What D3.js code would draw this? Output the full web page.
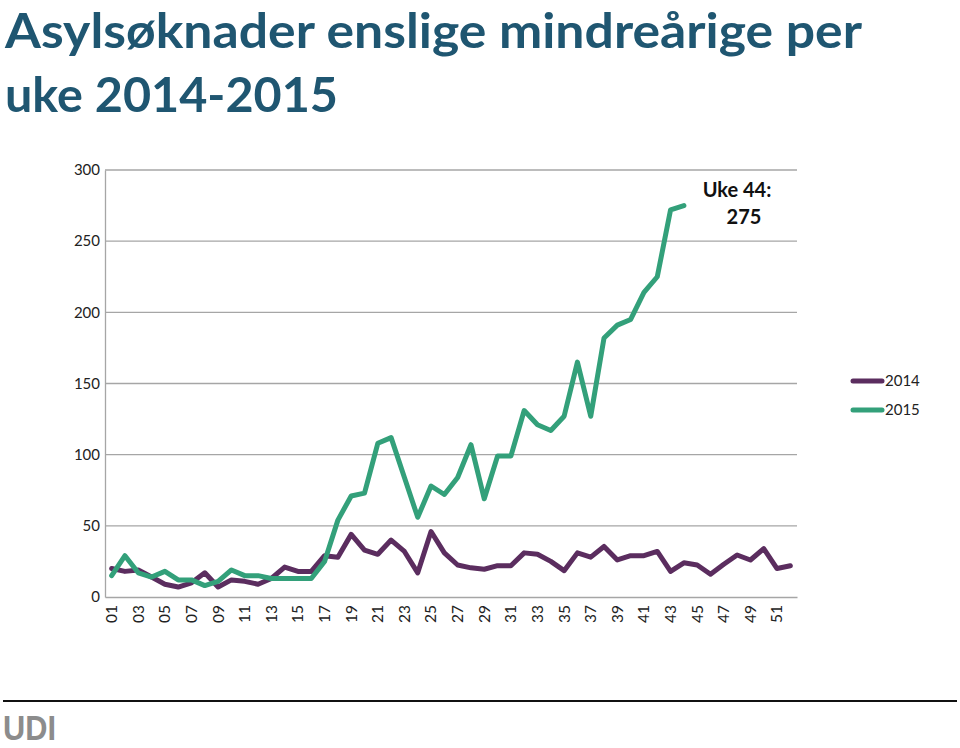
<!DOCTYPE html>
<html><head><meta charset="utf-8">
<script src="https://cdn.jsdelivr.net/npm/d3@7/dist/d3.min.js"></script>
<style>body{margin:0;background:#fff}svg{display:block}</style>
</head><body>
<svg id="c" width="960" height="748"></svg>
<script>
const weeks = d3.range(1, 53).map(w => String(w).padStart(2, "0"));
const tickLabels = weeks.filter((w, i) => i % 2 === 0);
const yTicks = [0, 50, 100, 150, 200, 250, 300];
const values2014 = [20,18,19,14,9,7,10,17,7,12,11,9,13,21,18,18,29,28,44,33,30,40,32,17,46,31,22.5,20.5,19.5,22,22,31,30,25,18.5,31,28,35.5,26,29,29,32,18,24,22.5,16,23,29.5,26,34,20,22];
const values2015 = [15,29,17,14,18,12,12,8,11,19,15,15,13,13,13,13,25,54,71,73,108,112,84,56,78,72,84,107,69,99,99,131,121,117,127,165,127,182,191,195,214,225,272,275];
const seriesNames = ["2014", "2015"];
const colors = {"2014": "#5b2d5f", "2015": "#33a07a"};

const svg = d3.select("#c");
const x = d3.scaleBand().domain(weeks).range([105, 797]).padding(0);
const y = d3.scaleLinear().domain([0, 300]).range([597, 170]);
const cx = w => x(w) + x.bandwidth() / 2;

// title
const title = svg.append("g").attr("fill", "#1f5671").attr("font-family", "Lato, 'Open Sans', sans-serif").attr("font-weight", "bold").attr("font-size", 48);
title.append("text").attr("x", 5).attr("y", 48).attr("textLength", 857).attr("lengthAdjust", "spacingAndGlyphs").text("Asylsøknader enslige mindreårige per");
title.append("text").attr("x", 5).attr("y", 112).attr("textLength", 333).attr("lengthAdjust", "spacingAndGlyphs").text("uke 2014-2015");

// gridlines
svg.append("g").selectAll("line").data(yTicks.filter(t => t > 0)).join("line")
  .attr("x1", 105).attr("x2", 797).attr("y1", d => y(d)).attr("y2", d => y(d))
  .attr("stroke", "#a6a6a6").attr("stroke-width", 1.3);

// y axis
const yAxis = svg.append("g").attr("transform", "translate(105,0)")
  .call(d3.axisLeft(y).tickValues(yTicks).tickSize(0).tickPadding(5));
yAxis.select(".domain").attr("stroke", "#a6a6a6").attr("stroke-width", 1.3);
yAxis.selectAll("text").attr("font-family", "Lato, sans-serif").attr("font-size", 15).attr("fill", "#222");

// x axis
const xAxis = svg.append("g").attr("transform", "translate(0,597)")
  .call(d3.axisBottom(x).tickValues(tickLabels).tickSize(0).tickPadding(0));
xAxis.select(".domain").attr("stroke", "#a6a6a6").attr("stroke-width", 1.3);
xAxis.selectAll("text").attr("font-family", "Lato, sans-serif").attr("font-size", 15.5).attr("fill", "#222")
  .attr("transform", "rotate(-90)").attr("text-anchor", "end").attr("dy", "0.35em").attr("x", -8).attr("y", 0);

// lines
const line = d3.line().x((d, i) => cx(weeks[i])).y(d => y(d));
[[values2014, "2014"], [values2015, "2015"]].forEach(([vals, name]) => {
  svg.append("path").datum(vals).attr("d", line).attr("fill", "none")
    .attr("stroke", colors[name]).attr("stroke-width", 5).attr("stroke-linejoin", "round").attr("stroke-linecap", "round");
});

// legend
const lg = svg.append("g").selectAll("g").data(seriesNames).join("g")
  .attr("transform", (d, i) => `translate(0,${381 + i * 29})`);
lg.append("line").attr("x1", 853).attr("x2", 882).attr("stroke", d => colors[d]).attr("stroke-width", 5).attr("stroke-linecap", "round");
lg.append("text").attr("x", 885).attr("dy", "0.35em").attr("font-family", "Lato, sans-serif").attr("font-size", 15).attr("fill", "#222").text(d => d);

// annotation
const ann = svg.append("g").attr("font-family", "Lato, sans-serif").attr("font-weight", "bold").attr("font-size", 20).attr("fill", "#111").attr("text-anchor", "middle");
ann.append("text").attr("x", 737).attr("y", 197).text("Uke 44:");
ann.append("text").attr("x", 744).attr("y", 224).text(values2015[43]);

// footer
svg.append("line").attr("x1", 3).attr("x2", 957).attr("y1", 701).attr("y2", 701).attr("stroke", "#111").attr("stroke-width", 2);
svg.append("text").attr("x", 3).attr("y", 740).attr("font-family", "'Liberation Sans Narrow', 'Liberation Sans', sans-serif").attr("font-weight", "bold")
  .attr("font-size", 35).attr("fill", "#8c8c8c").attr("textLength", 53).attr("lengthAdjust", "spacingAndGlyphs").text("UDI");
</script>
</body></html>
